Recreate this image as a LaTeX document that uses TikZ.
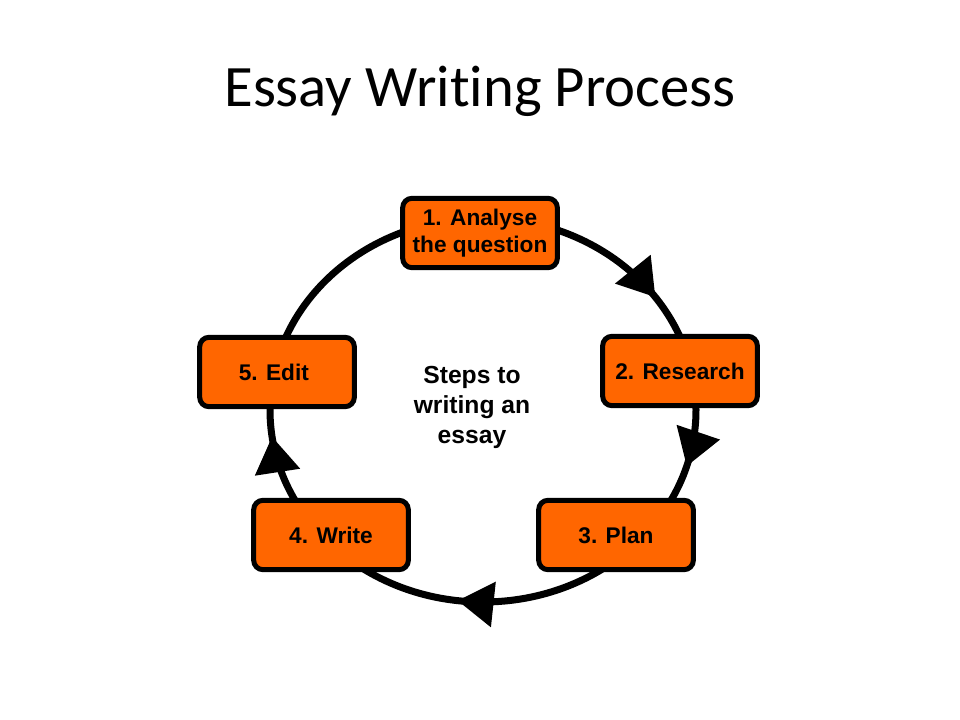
\documentclass[tikz,border=0pt]{standalone}
\usepackage{fontspec}
\usepackage{xcolor}
\usepackage{tikz}
\usetikzlibrary{arrows.meta,decorations.markings}
\newfontfamily\titlefont{Carlito}[Ligatures=CommonOff]
\newfontfamily\stepfont{Liberation Sans}
\definecolor{essayorange}{RGB}{255,102,0}

\begin{document}
\begin{tikzpicture}[
	x=0.75pt, y=-0.75pt,
	stepbox/.style={
		draw, fill=essayorange, line width=3.75pt, rounded corners=7pt,
		minimum width=116pt, minimum height=52pt, inner sep=0pt,
		align=center, font=\stepfont\bfseries\fontsize{17}{20}\selectfont
	},
	ring/.style={
		line width=5.25pt, postaction=decorate,
		decoration={markings,
			mark=at position 0.045 with {\arrow{>}},
			mark=at position 0.270 with {\arrow{>}},
			mark=at position 0.479 with {\arrow{>}},
			mark=at position 0.904 with {\arrow{>}}
		}
	}, >={Triangle[length=27pt,width=33pt]}
]
\useasboundingbox (0,0) rectangle (960,720);

\node[font=\titlefont\fontsize{44}{53}\selectfont, anchor=base] (title) at (480,107) {Essay Writing Process};

% the cycle
\coordinate (hub) at (483,410);
\draw[ring] (hub) ellipse [x radius=213, y radius=192];

\foreach \name/\x/\y/\txt in {
	analyse/480/233/{1. Analyse\\the question},
	research/680/371/{2. Research},
	plan/616/535/{3. Plan},
	write/331/535/{4. Write},
	edit/277/372/{5. Edit}
} {
	\node[stepbox] (\name) at (\x,\y) {\txt};
}

\node[font=\stepfont\bfseries\fontsize{18.5}{22.5}\selectfont, align=center] (steps) at (472,407) {Steps to\\writing an\\essay};
\end{tikzpicture}
\end{document}
